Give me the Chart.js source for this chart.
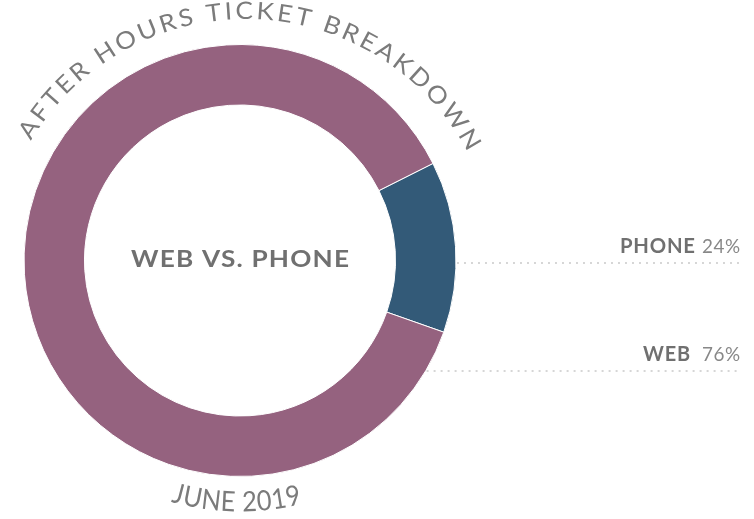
<!DOCTYPE html>
<html>
<head>
<meta charset="utf-8">
<script src="https://cdn.jsdelivr.net/npm/chart.js@4"></script>
<style>
  html, body { margin: 0; padding: 0; background: #fff; }
  #ring { display: block; }
</style>
</head>
<body>
<canvas id="ring" width="754" height="519"></canvas>
<script>
// slices as they are drawn, and the share text printed beside them
const segments = ["PHONE", "WEB"];
const sliceShares = [12.8, 87.2];
const shareLabels = ["24%", "76%"];
const colors = ["#335a78", "#95627f"];

const titleText = "AFTER HOURS TICKET BREAKDOWN";
const centerText = "WEB VS. PHONE";
const periodText = "JUNE 2019";

const FONT = "Lato, 'Open Sans', sans-serif";

// write text along a circle between two angles, widening the glyphs to fill it
// top = reads clockwise over the top, otherwise upright along the bottom
function arcText(ctx, text, cx, cy, r, fromDeg, toDeg, top, tracking) {
  const chars = [...text];
  const widths = chars.map((ch) => ctx.measureText(ch).width);
  const total = widths.reduce((a, b) => a + b, 0);
  const arcLen = (Math.abs(toDeg - fromDeg) * Math.PI / 180) * r;
  const sx = (arcLen - tracking * (chars.length - 1)) / total;
  const dir = top ? 1 : -1;
  let pos = 0;
  chars.forEach((ch, i) => {
    const w = widths[i] * sx;
    const a = (fromDeg * Math.PI / 180) + dir * (pos + w / 2) / r;
    ctx.save();
    ctx.translate(cx + r * Math.cos(a), cy + r * Math.sin(a));
    ctx.rotate(top ? a + Math.PI / 2 : a - Math.PI / 2);
    ctx.scale(sx, 1);
    ctx.fillText(ch, 0, 0);
    ctx.restore();
    pos += w + tracking;
  });
}

// straight text from x spanning a given width
function wideText(ctx, text, x, y, width, tracking) {
  ctx.letterSpacing = "0px";
  const w = ctx.measureText(text).width;
  const sx = (width - tracking * (text.length - 1)) / w;
  ctx.save();
  ctx.translate(x, y);
  ctx.scale(sx, 1);
  ctx.letterSpacing = (tracking / sx) + "px";
  ctx.textAlign = "left";
  ctx.fillText(text, 0, 0);
  ctx.restore();
  ctx.letterSpacing = "0px";
}

const decorations = {
  id: "decorations",
  afterDraw(chart) {
    const ctx = chart.ctx;
    const arc = chart.getDatasetMeta(0).data[0];
    const cx = arc.x, cy = arc.y, R = arc.outerRadius;

    ctx.save();
    ctx.textAlign = "center";
    ctx.textBaseline = "alphabetic";

    // curved title over the ring
    ctx.fillStyle = "#7b7b7b";
    ctx.font = "24px " + FONT;
    arcText(ctx, titleText, cx + 6, cy + 9.5, 251, -149, -28, true, 3);

    // curved period under the ring
    ctx.font = "28px " + FONT;
    arcText(ctx, periodText, cx, cy, 251, 106, 75.6, false, 0.5);

    // centre caption
    ctx.font = "bold 22.5px " + FONT;
    ctx.fillStyle = "#707070";
    wideText(ctx, centerText, cx - 109, cy + 6.5, 218, 1.2);

    // labels with dotted leaders on the right
    const right = 740;
    const rows = [
      { name: segments[0], share: shareLabels[0], y: cy + 2.5, nameEnd: 695, nameW: 75 },
      { name: segments[1], share: shareLabels[1], y: cy + 110.5, nameEnd: 690, nameW: 47 },
    ];
    rows.forEach((row) => {
      ctx.font = "20px " + FONT;
      ctx.fillStyle = "#888888";
      wideText(ctx, row.share, right - 38, row.y - 10, 38, 0.5);
      ctx.font = "bold 20px " + FONT;
      ctx.fillStyle = "#707070";
      wideText(ctx, row.name, row.nameEnd - row.nameW, row.y - 10, row.nameW, 0.8);

      const dy = row.y - cy;
      const startX = cx + Math.sqrt(Math.max(R * R - dy * dy, 0)) + 1;
      ctx.beginPath();
      ctx.setLineDash([2, 5]);
      ctx.lineWidth = 1.5;
      ctx.strokeStyle = "#c9c9c9";
      ctx.moveTo(startX, row.y);
      ctx.lineTo(right, row.y);
      ctx.stroke();
    });
    ctx.restore();
  },
};

new Chart("ring", {
  type: "doughnut",
  data: {
    labels: segments,
    datasets: [
      {
        data: sliceShares,
        backgroundColor: colors,
        borderColor: "#ffffff",
        borderWidth: 1,
      },
    ],
  },
  options: {
    responsive: false,
    animation: false,
    rotation: 63.3,
    cutout: "72%",
    layout: { padding: { left: 23, top: 44, right: 297, bottom: 42 } },
    plugins: {
      legend: { display: false },
      tooltip: { enabled: false },
    },
  },
  plugins: [decorations],
});
</script>
</body>
</html>
